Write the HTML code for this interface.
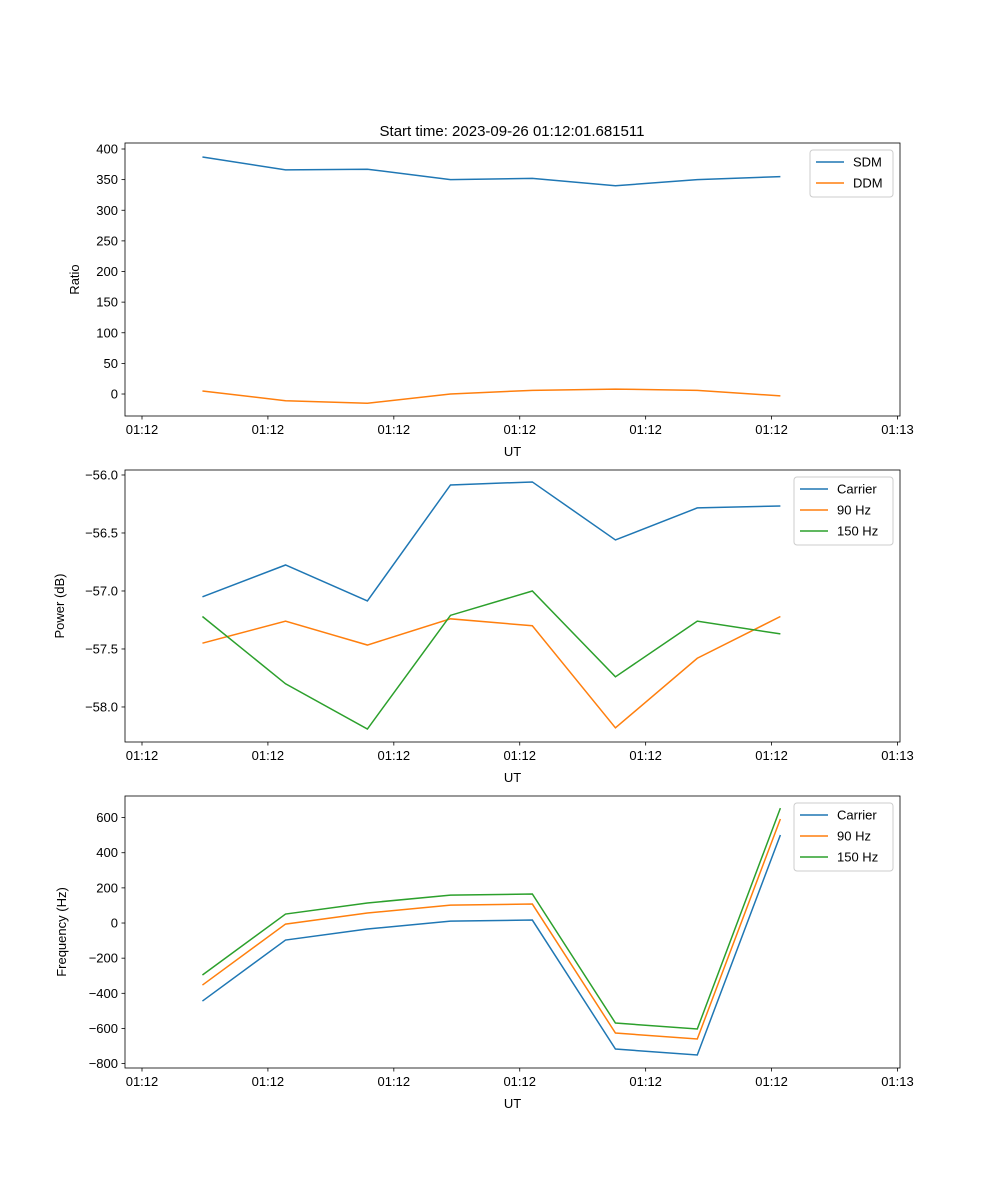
<!DOCTYPE html>
<html><head><meta charset="utf-8">
<style>
body{margin:0;background:#fff;}
svg{display:block;font-family:"Liberation Sans","DejaVu Sans",sans-serif;}
</style></head>
<body>
<svg id="fig" width="1000" height="1200" xmlns="http://www.w3.org/2000/svg">
<rect width="1000" height="1200" fill="#fff"/>
<text x="512" y="136" font-size="15" text-anchor="middle">Start time: 2023-09-26 01:12:01.681511</text>
</svg>
<script>
const times = [4.8, 11.4, 17.9, 24.5, 31.0, 37.6, 44.1, 50.7];
const xTicks = [0, 10, 20, 30, 40, 50, 60];
const xTickLabels = ["01:12","01:12","01:12","01:12","01:12","01:12","01:13"];
const sdm = [387, 366, 367, 350, 352, 340, 350, 355];
const ddm = [5, -11, -15, 0, 6, 8, 6, -3];
const powCarrier = [-57.05, -56.776, -57.086, -56.086, -56.06, -56.56, -56.284, -56.267];
const pow90 = [-57.45, -57.26, -57.466, -57.24, -57.30, -58.18, -57.58, -57.22];
const pow150 = [-57.22, -57.80, -58.19, -57.21, -57.0, -57.74, -57.26, -57.37];
const freqCarrier = [-444, -97, -34, 11, 17, -717, -751, 501];
const freq90 = [-353, -6, 57, 102, 108, -626, -660, 592];
const freq150 = [-296, 51, 114, 159, 165, -569, -603, 654];
const ratioTicks = [0, 50, 100, 150, 200, 250, 300, 350, 400];
const powTicks = [-58.0, -57.5, -57.0, -56.5, -56.0];
const freqTicks = [-800, -600, -400, -200, 0, 200, 400, 600];

const NS = "http://www.w3.org/2000/svg";
const svg = document.getElementById("fig");
function mk(tag, attrs, parent) {
  const e = document.createElementNS(NS, tag);
  for (const k in attrs) e.setAttribute(k, attrs[k]);
  (parent || svg).appendChild(e);
  return e;
}
const X0 = 125, X1 = 900, xmin = -1.35, xmax = 60.2;
const xs = v => X0 + (v - xmin) / (xmax - xmin) * (X1 - X0);
const colors = ["#1f77b4", "#ff7f0e", "#2ca02c"];

function panel(name, top, bottom, ymin, ymax, yTicks, fmt, ylabel, series, labels, legend) {
  const ys = v => bottom - (v - ymin) / (ymax - ymin) * (bottom - top);
  const g = mk("g", {});
  
  
  series.forEach((s, i) => {
    const p = mk("polyline", {points: s.map((v, j) => xs(times[j]) + "," + ys(v)).join(" "), fill: "none", stroke: colors[i], "stroke-width": 1.5}, g);
    
    
  });
  mk("rect", {x: X0, y: top, width: X1 - X0, height: bottom - top, fill: "none", stroke: "#000", "stroke-width": 0.8}, g);
  xTicks.forEach((t, i) => {
    const x = xs(t);
    mk("line", {x1: x, x2: x, y1: bottom, y2: bottom + 3.5, stroke: "#000", "stroke-width": 0.8}, g);
    const tx = mk("text", {x: x, y: bottom + 18, "font-size": 13, "text-anchor": "middle"}, g);
    tx.textContent = xTickLabels[i];
    
    
  });
  yTicks.forEach(t => {
    const y = ys(t);
    mk("line", {x1: X0 - 3.5, x2: X0, y1: y, y2: y, stroke: "#000", "stroke-width": 0.8}, g);
    const tx = mk("text", {x: X0 - 7, y: y + 4.5, "font-size": 13, "text-anchor": "end"}, g);
    tx.textContent = fmt(t);
    
    
  });
  const xl = mk("text", {x: (X0 + X1) / 2, y: bottom + 40, "font-size": 13, "text-anchor": "middle"}, g);
  xl.textContent = "UT";
  
  
  const cy = (top + bottom) / 2;
  const yl = mk("text", {x: legend.ylx, y: cy, "font-size": 13, "text-anchor": "middle", transform: "rotate(-90 " + legend.ylx + " " + cy + ")"}, g);
  yl.textContent = ylabel;
  
  
  const lg = mk("g", {}, g);
  
  
  mk("rect", {x: legend.x, y: top + 7, width: legend.w, height: labels.length * 21 + 5, rx: 3, fill: "#fff", stroke: "#ccc", "stroke-width": 1}, lg);
  labels.forEach((l, i) => {
    const y = top + 19 + i * 21;
    mk("line", {x1: legend.x + 6, x2: legend.x + 34, y1: y, y2: y, stroke: colors[i], "stroke-width": 1.5}, lg);
    const t = mk("text", {x: legend.x + 43, y: y + 4.5, "font-size": 13}, lg);
    t.textContent = l;
    
    
  });
}
panel("ratio-panel", 143, 416, -35.9, 409.8, ratioTicks, v => String(v), "Ratio", [sdm, ddm], ["SDM", "DDM"], {x: 810, w: 83, ylx: 79});
panel("power-panel", 470, 742, -58.302, -55.957, powTicks, v => (v < 0 ? "\u2212" : "") + Math.abs(v).toFixed(1), "Power (dB)", [powCarrier, pow90, pow150], ["Carrier", "90 Hz", "150 Hz"], {x: 794, w: 99, ylx: 64});
panel("frequency-panel", 796, 1068, -825, 722.8, freqTicks, v => (v < 0 ? "\u2212" : "") + Math.abs(v), "Frequency (Hz)", [freqCarrier, freq90, freq150], ["Carrier", "90 Hz", "150 Hz"], {x: 794, w: 99, ylx: 66});
</script>
</body></html>
